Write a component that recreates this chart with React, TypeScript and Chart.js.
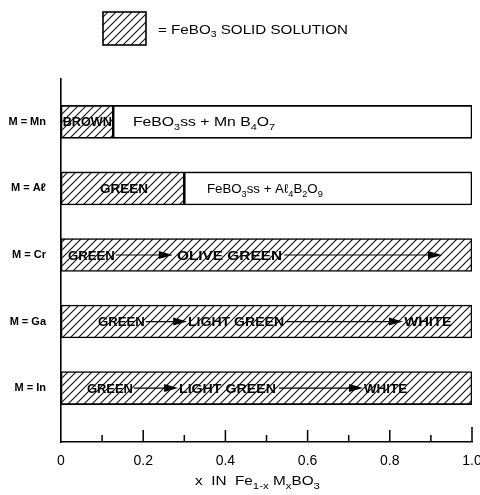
import React, { useEffect, useRef } from 'react';
import { Chart, registerables } from 'chart.js';

Chart.register(...registerables);

// ---- data ----
const categories = ['M = Mn', 'M = Aℓ', 'M = Cr', 'M = Ga', 'M = In'];
// upper limit of x for the FeBO3 solid-solution range in each system
const solidSolutionLimit = [0.127, 0.3, 1.0, 1.0, 1.0];
const xTickValues = [0, 0.2, 0.4, 0.6, 0.8, 1.0];
const xTickLabels = ['0', '0.2', '0.4', '0.6', '0.8', '1.0'];
const minorTickValues = [0.1, 0.3, 0.5, 0.7, 0.9];

type Seg = [string, boolean]; // [text, isSubscript]
type Note =
  | { kind: 'text'; segs: Seg[]; from: number; to: number; bold: boolean }
  | { kind: 'arrow'; from: number; to: number };

const txt = (s: string, from: number, to: number): Note => ({ kind: 'text', segs: [[s, false]], from, to, bold: true });
const arrow = (from: number, to: number): Note => ({ kind: 'arrow', from, to });

const mnPhase: Seg[] = [['FeBO', false], ['3', true], ['ss + Mn B', false], ['4', true], ['O', false], ['7', true]];
const alPhase: Seg[] = [['FeBO', false], ['3', true], ['ss + Aℓ', false], ['4', true], ['B', false], ['2', true], ['O', false], ['9', true]];

// colour notes along each bar (x positions in composition units)
const rowNotes: Note[][] = [
  [txt('BROWN', 0.004, 0.124), { kind: 'text', segs: mnPhase, from: 0.175, to: 0.521, bold: false }],
  [txt('GREEN', 0.095, 0.212), { kind: 'text', segs: alPhase, from: 0.355, to: 0.637, bold: false }],
  [txt('GREEN', 0.017, 0.131), arrow(0.133, 0.272), txt('OLIVE GREEN', 0.282, 0.538), arrow(0.543, 0.927)],
  [txt('GREEN', 0.09, 0.204), arrow(0.206, 0.307), txt('LIGHT GREEN', 0.309, 0.543), arrow(0.546, 0.832), txt('WHITE', 0.835, 0.951)],
  [txt('GREEN', 0.063, 0.175), arrow(0.177, 0.285), txt('LIGHT GREEN', 0.287, 0.523), arrow(0.53, 0.735), txt('WHITE', 0.737, 0.842)],
];

const legendSegs: Seg[] = [['= FeBO', false], ['3', true], [' SOLID SOLUTION', false]];
const axisTitleSegs: Seg[] = [['x  IN  Fe', false], ['1-x', true], [' M', false], ['x', true], ['BO', false], ['3', true]];

const FONT = '"Liberation Sans", Arial, Helvetica, sans-serif';

function makeHatch(): CanvasPattern | string {
  const c = document.createElement('canvas');
  c.width = 8;
  c.height = 8;
  const g = c.getContext('2d');
  if (!g) return '#fff';
  g.fillStyle = '#fff';
  g.fillRect(0, 0, 8, 8);
  g.strokeStyle = '#111';
  g.lineWidth = 1.1;
  g.beginPath();
  g.moveTo(-1, 9);
  g.lineTo(9, -1);
  g.moveTo(-1, 1);
  g.lineTo(1, -1);
  g.moveTo(7, 9);
  g.lineTo(9, 7);
  g.stroke();
  return g.createPattern(c, 'repeat') || '#fff';
}

function drawRich(ctx: CanvasRenderingContext2D, segs: Seg[], x0: number, x1: number, y: number, size: number, bold: boolean) {
  const w8 = bold ? 'bold' : 'normal';
  const main = `${w8} ${size}px ${FONT}`;
  const sub = `${w8} ${Math.round(size * 0.72)}px ${FONT}`;
  let w = 0;
  for (const [t, s] of segs) {
    ctx.font = s ? sub : main;
    w += ctx.measureText(t).width;
  }
  const sx = (x1 - x0) / w;
  ctx.save();
  ctx.translate(x0, y);
  ctx.scale(sx, 1);
  ctx.textBaseline = 'middle';
  ctx.textAlign = 'left';
  ctx.fillStyle = '#000';
  let cx = 0;
  for (const [t, s] of segs) {
    ctx.font = s ? sub : main;
    ctx.fillText(t, cx, s ? size * 0.38 : 0);
    cx += ctx.measureText(t).width;
  }
  ctx.restore();
}

export default function App() {
  const ref = useRef<HTMLCanvasElement | null>(null);

  useEffect(() => {
    document.body.style.margin = '0';
    const canvas = ref.current;
    if (!canvas) return;
    const hatch = makeHatch();

    const ssData = solidSolutionLimit.map((lim, i) => ({ y: i, x: [0, lim] }));
    const twoPhaseData = solidSolutionLimit
      .map((lim, i) => (lim < 1 ? { y: i, x: [lim, 1] } : null))
      .filter((d) => d !== null);

    const decorations = {
      id: 'decorations',
      afterDraw(chart: any) {
        const ctx: CanvasRenderingContext2D = chart.ctx;
        const xs = chart.scales.x;
        const ys = chart.scales.y;
        const base = chart.chartArea.bottom;
        ctx.save();
        // inward ticks on the composition axis
        ctx.strokeStyle = '#000';
        ctx.lineWidth = 1.5;
        ctx.beginPath();
        for (const v of xTickValues.slice(1)) {
          const px = xs.getPixelForValue(v);
          const len = v === 1 ? 15 : 12;
          ctx.moveTo(px, base);
          ctx.lineTo(px, base - len);
        }
        for (const v of minorTickValues) {
          const px = xs.getPixelForValue(v);
          ctx.moveTo(px, base);
          ctx.lineTo(px, base - 7);
        }
        ctx.stroke();

        // notes inside bars
        rowNotes.forEach((notes, i) => {
          const cy = ys.getPixelForValue(i);
          for (const n of notes) {
            const a = xs.getPixelForValue(n.from);
            const b = xs.getPixelForValue(n.to);
            if (n.kind === 'text') {
              drawRich(ctx, n.segs, a, b, cy + 1, 13, n.bold);
            } else {
              ctx.strokeStyle = '#000';
              ctx.lineWidth = 1.2;
              ctx.beginPath();
              ctx.moveTo(a, cy);
              ctx.lineTo(b - 10, cy);
              ctx.stroke();
              ctx.fillStyle = '#000';
              ctx.beginPath();
              ctx.moveTo(b, cy);
              ctx.lineTo(b - 14, cy - 4);
              ctx.lineTo(b - 14, cy + 4);
              ctx.closePath();
              ctx.fill();
            }
          }
        });

        // legend
        ctx.fillStyle = hatch as any;
        ctx.fillRect(103, 12, 43, 33);
        ctx.strokeStyle = '#000';
        ctx.lineWidth = 1.6;
        ctx.strokeRect(103, 12, 43, 33);
        drawRich(ctx, legendSegs, 158, 348, 30, 13, false);

        // axis title
        drawRich(ctx, axisTitleSegs, 195, 320, 482, 12, false);
        ctx.restore();
      },
    };

    const chart = new Chart(canvas, {
      type: 'bar',
      data: {
        datasets: [
          {
            label: 'FeBO3 solid solution',
            data: ssData as any,
            backgroundColor: hatch as any,
            borderColor: '#000',
            borderWidth: 1.6,
            borderSkipped: false,
            barThickness: 33,
            grouped: false,
          } as any,
          {
            label: 'two-phase',
            data: twoPhaseData as any,
            backgroundColor: '#fff',
            borderColor: '#000',
            borderWidth: 1.6,
            borderSkipped: false,
            barThickness: 33,
            grouped: false,
          } as any,
        ],
      },
      options: {
        animation: false,
        responsive: false,
        indexAxis: 'y',
        layout: { padding: { top: 79, right: 8, left: 0, bottom: 0 } },
        plugins: { legend: { display: false }, tooltip: { enabled: false } },
        scales: {
          x: {
            type: 'linear',
            position: 'bottom',
            min: 0,
            max: 1,
            offset: false,
            grid: { display: false, drawTicks: false },
            border: { display: true, color: '#000', width: 1.6 },
            ticks: {
              padding: 11,
              color: '#000',
              autoSkip: false,
              maxRotation: 0,
              font: { family: FONT, size: 14 },
              callback: (v: any) => xTickLabels[xTickValues.indexOf(Number(v))] ?? '',
            },
            afterBuildTicks: (s: any) => {
              s.ticks = xTickValues.map((v) => ({ value: v }));
            },
            afterFit: (s: any) => {
              s.height = 53;
              s.paddingLeft = 0;
              s.paddingRight = 0;
            },
          },
          y: {
            type: 'linear',
            reverse: true,
            min: -0.644,
            max: 4.81,
            offset: false,
            grid: { display: false, drawTicks: false, offset: false },
            border: { display: true, color: '#000', width: 1.6 },
            ticks: {
              padding: 15,
              color: '#000',
              autoSkip: false,
              font: { family: FONT, size: 11, weight: 'bold' },
              callback: (v: any) => categories[Number(v)] ?? '',
            },
            afterBuildTicks: (s: any) => {
              s.ticks = categories.map((_, i) => ({ value: i }));
            },
            afterFit: (s: any) => {
              s.width = 61;
              s.paddingTop = 0;
              s.paddingBottom = 0;
            },
          },
        },
      } as any,
      plugins: [decorations],
    });
    return () => chart.destroy();
  }, []);

  return <canvas ref={ref} width={480} height={495} style={{ display: 'block', width: 480, height: 495 }} />;
}
